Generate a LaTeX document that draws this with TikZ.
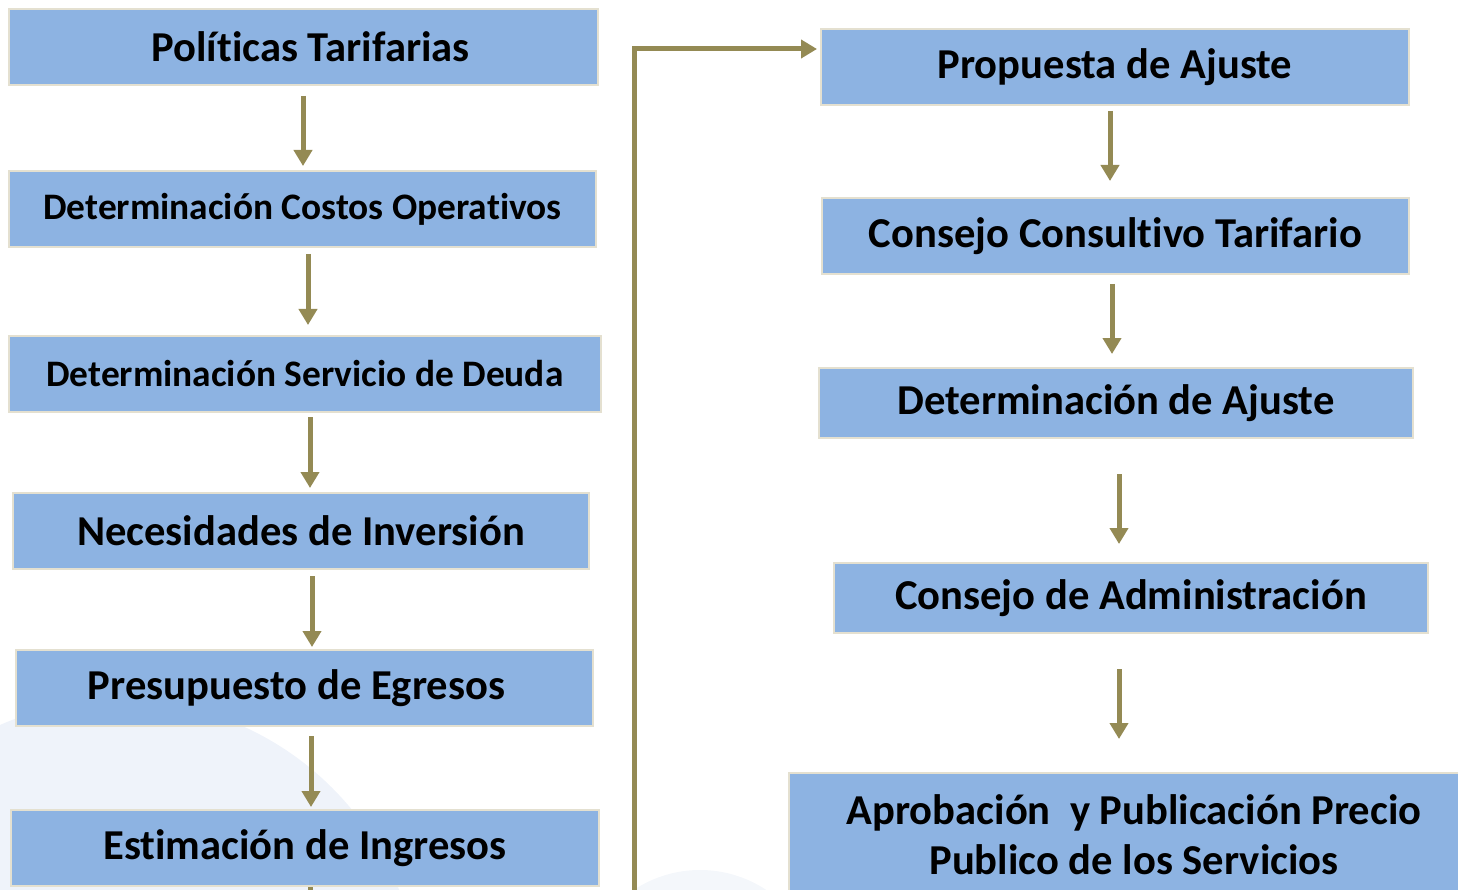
\documentclass[tikz,border=0pt]{standalone}
\usepackage{fontspec}
\setmainfont{Carlito}[Ligatures=NoCommon]
\usetikzlibrary{arrows.meta,calc}
\definecolor{boxfill}{RGB}{141,179,226}
\definecolor{boxline}{RGB}{228,224,208}
\definecolor{olive}{RGB}{148,138,84}
\definecolor{wm}{RGB}{239,243,250}
\tikzset{
  stepbox/.style={draw=boxline,line width=2pt,fill=boxfill,inner sep=0pt,
    font=\bfseries\fontsize{42.6}{50}\selectfont,align=center},
  smallbox/.style={stepbox,font=\bfseries\fontsize{37.4}{44}\selectfont},
  arr/.style={draw=olive,line width=5pt,-{Triangle[width=18pt,length=16pt]}}
}
\begin{document}
\begin{tikzpicture}[x=1pt,y=-1pt]
\useasboundingbox (0,0) rectangle (1458,890);
\clip (0,0) rectangle (1458,890);
% faint watermark
\fill[wm] (120,1000) circle (300);
\fill[wm!70!white] (700,990) circle (120);
% left column
\node[stepbox,minimum width=589pt,minimum height=76pt] (b1) at (303.5,47) {\hspace*{14pt}Políticas Tarifarias};
\node[smallbox,minimum width=587pt,minimum height=76pt] (b2) at (302.5,209) {Determinación Costos Operativos};
\node[smallbox,minimum width=592pt,minimum height=76pt] (b3) at (305,374) {Determinación Servicio de Deuda};
\node[stepbox,minimum width=576pt,minimum height=76pt] (b4) at (301,531) {Necesidades de Inversión};
\node[stepbox,minimum width=577pt,minimum height=76pt] (b5) at (304.5,688) {Presupuesto de Egresos\hspace*{16pt}};
\node[stepbox,minimum width=588pt,minimum height=76pt] (b6) at (305,848) {Estimación de Ingresos};
% right column
\node[stepbox,minimum width=588pt,minimum height=76pt] (r1) at (1115,67) {Propuesta de Ajuste};
\node[stepbox,minimum width=587pt,minimum height=76pt] (r2) at (1115.5,236) {Consejo Consultivo Tarifario};
\node[stepbox,minimum width=594pt,minimum height=70pt] (r3) at (1116,403) {Determinación de Ajuste};
\node[stepbox,minimum width=594pt,minimum height=70pt] (r4) at (1131,598) {Consejo de Administración};
\node[stepbox,minimum width=690pt,minimum height=124pt] (r5) at (1134,835) {Aprobación\ \ y Publicación Precio\\Publico de los Servicios};
% left arrows
\draw[arr] ($(b1.south)+(-0.5,10)$) -- ($(b1.south |- b2.north)+(-0.5,-4)$);
\draw[arr] ($(b2.south)+(5.5,6)$) -- ($(b2.south |- b3.north)+(5.5,-10)$);
\draw[arr] ($(b3.south)+(5,4)$) -- ($(b3.south |- b4.north)+(5,-4)$);
\draw[arr] ($(b4.south)+(11,6)$) -- ($(b4.south |- b5.north)+(11,-2)$);
\draw[arr] ($(b5.south)+(6.5,9)$) -- ($(b5.south |- b6.north)+(6.5,-2)$);
% right arrows
\draw[arr] ($(r1.south)+(-5,5)$) -- ($(r1.south |- r2.north)+(-5,-16)$);
\draw[arr] ($(r2.south)+(-3.5,9)$) -- ($(r2.south |- r3.north)+(-3.5,-13)$);
\draw[arr] ($(r3.south)+(3,35)$) -- ($(r3.south |- r4.north)+(3,-18)$);
\draw[arr] ($(r4.south)+(-12,35)$) -- ($(r4.south |- r5.north)+(-12,-33)$);
% long connector
\coordinate (low) at (310,930);
\coordinate (col) at (634,930);
\coordinate (top) at ($(r1.west)+(-3,-18)$);
\draw[arr] ($(b6.south)+(5,0)$) -- (low) -- (col) -- (col |- top) -- (top);
\end{tikzpicture}
\end{document}
